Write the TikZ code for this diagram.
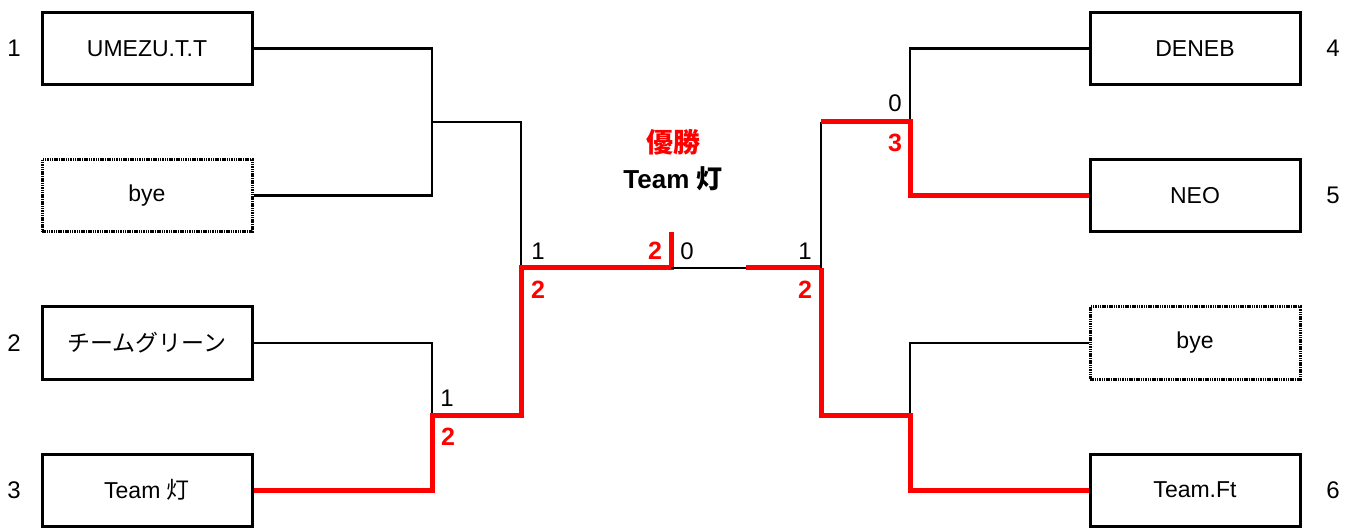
\documentclass[tikz,border=0pt]{standalone}
\usepackage{fontspec}
\setmainfont{Liberation Sans}
\newfontfamily\jp{Noto Sans CJK JP}
\begin{document}
\begin{tikzpicture}[x=1pt,y=-1pt,
  team/.style={draw=black,line width=3pt,minimum width=210pt,minimum height=72pt,inner sep=0pt,font=\fontsize{23}{26}\selectfont},
  byebox/.style={team,dash pattern=on 1.5pt off 0.8pt},
  seed/.style={font=\fontsize{24}{26}\selectfont},
  blk/.style={draw=black,line width=2.8pt},
  win/.style={draw=red,line width=5pt},
  sc/.style={font=\fontsize{24}{26}\selectfont,inner sep=0pt},
  scr/.style={font=\bfseries\fontsize{25}{26}\selectfont,text=red,inner sep=0pt}]
\useasboundingbox (0,0) rectangle (1360,529);
% left boxes
\node[team] (u) at (147,48.5) {UMEZU.T.T};
\node[byebox] (byeL) at (147,195.5) {bye};
\node[team] (g) at (147,343) {\jp チームグリーン};
\node[team] (t) at (147,490) {Team {\jp 灯}};
% right boxes
\node[team] (dn) at (1195,48.5) {DENEB};
\node[team] (neo) at (1195,195.5) {NEO};
\node[byebox] (byeR) at (1195,343) {bye};
\node[team] (ft) at (1195,490) {Team.Ft};
% seeds
\node[seed] (s1) at (14,48) {1};
\node[seed] (s2) at (14,343) {2};
\node[seed] (s3) at (14,490) {3};
\node[seed] (s4) at (1333,48) {4};
\node[seed] (s5) at (1333,195) {5};
\node[seed] (s6) at (1333,490) {6};
% junctions
\coordinate (L1) at (432,122);
\coordinate (L2) at (521,268);
\coordinate (L3) at (432,415);
\coordinate (F) at (671,268);
\coordinate (Ftop) at (671,232);
\coordinate (Rm) at (746,268);
\coordinate (R2) at (821,268);
\coordinate (R1a) at (821,122);
\coordinate (R1) at (910,122);
\coordinate (R3) at (910,415);
% left side
\draw[blk] (u.east) -| (L1) |- (byeL.east);
\draw[blk] (L1) -| (L2);
\draw[blk] (g.east) -| (L3);
\draw[win] (t.east) -| (L3) -| (L2) -- (F) -- (Ftop);
% final
\draw[blk] (F) -- (Rm);
\draw[win] (Rm) -- (R2);
% right side
\draw[blk] (dn.west) -| (R1);
\draw[blk] (R1a) -- (R2);
\draw[win] (neo.west) -| (R1) -- (R1a);
\draw[blk] (byeR.west) -| (R3);
\draw[win] (ft.west) -| (R3) -| (R2);
% scores
\node[sc] (a1) at (538,251) {1};
\node[scr] (a2) at (538,290) {2};
\node[scr] (b2) at (655,251) {2};
\node[sc] (b0) at (687,251) {0};
\node[sc] (c1) at (805,251) {1};
\node[scr] (c2) at (805,290) {2};
\node[sc] (d1) at (447,398) {1};
\node[scr] (d2) at (448,437) {2};
\node[sc] (e0) at (895,103) {0};
\node[scr] (e3) at (895,143) {3};
% champion
\node[font=\jp\bfseries\fontsize{27}{30}\selectfont,text=red] (ch) at (673,142) {優勝};
\node[font=\bfseries\fontsize{26}{30}\selectfont] (chn) at (673,179) {Team {\jp\bfseries 灯}};
\end{tikzpicture}
\end{document}
